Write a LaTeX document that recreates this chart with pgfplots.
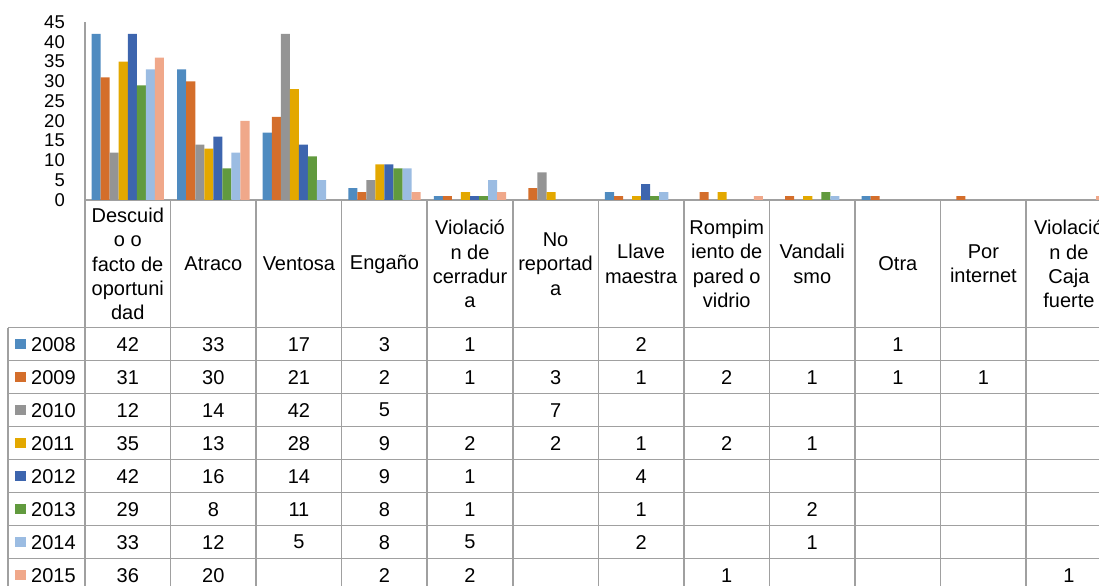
\documentclass[border=0pt]{standalone}
\usepackage{pgfplots}
\pgfplotsset{compat=1.18}
\usepackage{fontspec}
\setmainfont{Liberation Sans}
\definecolor{c08}{RGB}{79,139,192}
\definecolor{c09}{RGB}{212,110,43}
\definecolor{c10}{RGB}{148,148,148}
\definecolor{c11}{RGB}{227,168,0}
\definecolor{c12}{RGB}{61,101,174}
\definecolor{c13}{RGB}{97,154,62}
\definecolor{c14}{RGB}{155,188,226}
\definecolor{c15}{RGB}{240,168,138}
\definecolor{gridc}{RGB}{160,160,160}
\begin{document}
\begin{tikzpicture}[x=1bp,y=1bp]
\tikzset{cell/.style={font=\fontsize{20bp}{24.4bp}\selectfont, inner sep=0pt, align=center}}
\path[use as bounding box] (0,0) rectangle (1099,586);
\begin{scope}
\clip (0,0) rectangle (1099,586);
\begin{axis}[
  at={(85bp,386bp)}, anchor=south west,
  scale only axis, width=1026.7bp, height=178bp,
  xmin=-0.5, xmax=11.5, ymin=0, ymax=45,
  axis x line*=bottom, axis y line*=left,
  axis line style={-, draw=gridc, line width=1.5bp},
  ytick={0,5,...,45}, xtick=\empty,
  major tick length=0pt,
  /pgf/number format/assume math mode=true,
  yticklabel style={font=\fontsize{18.5bp}{20bp}\selectfont, inner sep=0pt, xshift=-20bp, text=black},
  ybar=0pt, bar width=9.04bp,
  clip=false,
]
\addplot[fill=c08, draw=none] coordinates {(0,42) (1,33) (2,17) (3,3) (4,1) (6,2) (9,1)};
\addplot[fill=c09, draw=none] coordinates {(0,31) (1,30) (2,21) (3,2) (4,1) (5,3) (6,1) (7,2) (8,1) (9,1) (10,1)};
\addplot[fill=c10, draw=none] coordinates {(0,12) (1,14) (2,42) (3,5) (5,7)};
\addplot[fill=c11, draw=none] coordinates {(0,35) (1,13) (2,28) (3,9) (4,2) (5,2) (6,1) (7,2) (8,1)};
\addplot[fill=c12, draw=none] coordinates {(0,42) (1,16) (2,14) (3,9) (4,1) (6,4)};
\addplot[fill=c13, draw=none] coordinates {(0,29) (1,8) (2,11) (3,8) (4,1) (6,1) (8,2)};
\addplot[fill=c14, draw=none] coordinates {(0,33) (1,12) (2,5) (3,8) (4,5) (6,2) (8,1)};
\addplot[fill=c15, draw=none] coordinates {(0,36) (1,20) (3,2) (4,2) (7,1) (11,1)};
\end{axis}
% table grid
\foreach \k in {0,...,12} {\draw[gridc, line width=1.5bp] (85+85.56*\k, 386) -- (85+85.56*\k, -10);}
\foreach \j in {0,...,8} {\draw[gridc, line width=1.5bp] (8, 258.3-33*\j) -- (1120, 258.3-33*\j);}
\draw[gridc, line width=1.5bp] (8, 258.3) -- (8, -10);
% header
\foreach \t [count=\i from 0] in {{Descuid\\o o\\facto de\\oportuni\\dad}, {Atraco}, {Ventosa}, {Engaño}, {Violació\\n de\\cerradur\\a}, {No\\reportad\\a}, {Llave\\maestra}, {Rompim\\iento de\\pared o\\vidrio}, {Vandali\\smo}, {Otra}, {Por\\internet}, {Violació\\n de\\Caja\\fuerte}}
  \node[cell] at (127.78+85.56*\i, 322) {\t};
% row labels
\foreach \yr/\col [count=\r from 0] in {2008/c08, 2009/c09, 2010/c10, 2011/c11, 2012/c12, 2013/c13, 2014/c14, 2015/c15}{
  \fill[\col] (15.3, 236.55-33*\r) rectangle ++(10.5,10.5);
  \node[cell, anchor=west] at (31, 241.8-33*\r) {\yr};
}
% values
\foreach \vals [count=\r from 0] in {
  {42,33,17,3,1,{},2,{},{},1,{},{}},
  {31,30,21,2,1,3,1,2,1,1,1,{}},
  {12,14,42,5,{},7,{},{},{},{},{},{}},
  {35,13,28,9,2,2,1,2,1,{},{},{}},
  {42,16,14,9,1,{},4,{},{},{},{},{}},
  {29,8,11,8,1,{},1,{},2,{},{},{}},
  {33,12,5,8,5,{},2,{},1,{},{},{}},
  {36,20,{},2,2,{},{},1,{},{},{},1}}{
  \foreach \v [count=\c from 0] in \vals {
    \node[cell] at (127.78+85.56*\c, 241.8-33*\r) {\v};
  }
}
\end{scope}
\end{tikzpicture}
\end{document}
